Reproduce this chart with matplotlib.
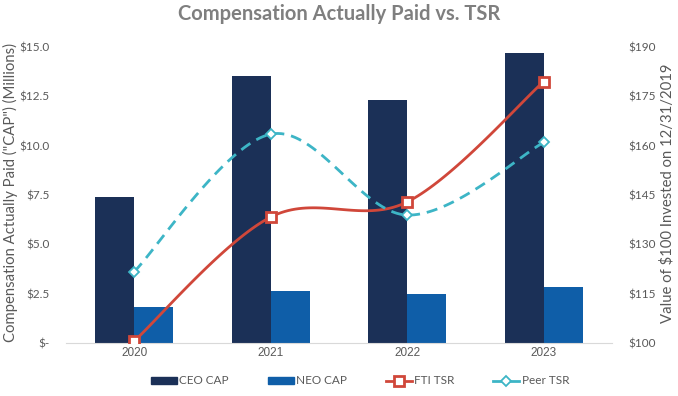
import numpy as np
import matplotlib
matplotlib.use("Agg")
import matplotlib.pyplot as plt
from matplotlib.lines import Line2D
from matplotlib.patches import Patch

years = ["2020", "2021", "2022", "2023"]
ceo_cap = [7.38, 13.55, 12.32, 14.70]
neo_cap = [1.84, 2.64, 2.48, 2.85]
fti_tsr = [100.6, 138.3, 142.9, 179.5]
peer_tsr = [121.7, 163.5, 138.9, 161.0]

plt.rcParams['font.family'] = ['Lato', 'DejaVu Sans']
GRAY = '#595959'
C_CEO = '#1b3057'
C_NEO = '#0f5ea8'
C_FTI = '#d0473a'
C_PEER = '#3db5c6'


def smooth(xs, ys, n=40):
    # Excel-style smoothed line (Bezier through the points)
    xs = np.asarray(xs, float); ys = np.asarray(ys, float)
    P = np.column_stack([xs, ys])
    out = []
    for i in range(len(P) - 1):
        p0 = P[i - 1] if i > 0 else P[i]
        p1 = P[i]; p2 = P[i + 1]
        p3 = P[i + 2] if i + 2 < len(P) else P[i + 1]
        c1 = p1 + (p2 - p0) / 6.0
        c2 = p2 - (p3 - p1) / 6.0
        t = np.linspace(0, 1, n)[:, None]
        seg = ((1 - t) ** 3) * p1 + 3 * ((1 - t) ** 2) * t * c1 + 3 * (1 - t) * t ** 2 * c2 + t ** 3 * p2
        out.append(seg if i == 0 else seg[1:])
    seg = np.vstack(out)
    return seg[:, 0], seg[:, 1]


fig = plt.figure(figsize=(6.78, 3.96), dpi=100)
ax = fig.add_axes([66 / 678, 1 - 343 / 396, 546 / 678, 296 / 396])
x = np.arange(len(years))
w = 0.285
ax.bar(x - w / 2, ceo_cap, width=w, color=C_CEO, zorder=2)
ax.bar(x + w / 2, neo_cap, width=w, color=C_NEO, zorder=2)
ax.set_xlim(-0.5, len(years) - 0.5)
ax.set_ylim(0, 15)
ax.set_yticks(np.arange(0, 15.01, 2.5))
ax.set_yticklabels(['$-' if v == 0 else f'${v:.1f}' for v in np.arange(0, 15.01, 2.5)])
ax.set_xticks(x)
ax.set_xticklabels(years, fontsize=7.5, color=GRAY, family=['Liberation Sans Narrow', 'Liberation Sans'])
for s in ['top', 'right', 'left']:
    ax.spines[s].set_visible(False)
ax.spines['bottom'].set_color('#d9d9d9')
ax.tick_params(axis='both', length=0, labelsize=8.5, colors=GRAY)
ax.tick_params(axis='y', pad=12)
ax.tick_params(axis='x', pad=3)

ax2 = ax.twinx()
ax2.set_ylim(100, 190)
ax2.set_yticks(np.arange(100, 191, 15))
ax2.set_yticklabels([f'${v}' for v in range(100, 191, 15)])
for s in ['top', 'right', 'left', 'bottom']:
    ax2.spines[s].set_visible(False)
ax2.tick_params(axis='y', length=0, labelsize=8.5, colors=GRAY, pad=12)

fig.text(10 / 678, 1 - 193 / 396, 'Compensation Actually Paid ("CAP") (Millions)', rotation=90,
         ha='center', va='center', fontsize=10.7, color=GRAY)
fig.text(667 / 678, 1 - 193 / 396, 'Value of $100 Invested on 12/31/2019', rotation=90,
         ha='center', va='center', fontsize=10.7, color=GRAY)

sx, sy = smooth(x, fti_tsr)
ax2.plot(sx, sy, color=C_FTI, lw=2, zorder=3)
ax2.plot(x, fti_tsr, ls='none', marker='s', ms=7, mfc='white', mec=C_FTI, mew=2, zorder=4)
px, py = smooth(x, peer_tsr)
ax2.plot(px, py, color=C_PEER, lw=2, ls=(0, (4, 2.5)), zorder=3)
ax2.plot(x, peer_tsr, ls='none', marker='D', ms=5, mfc='white', mec=C_PEER, mew=1.3, zorder=4)

fig.text(0.5, 1 - 14 / 396, 'Compensation Actually Paid vs. TSR', ha='center', va='center',
         fontsize=14.5, fontweight='bold', color='#7f7f7f')

handles = [
    Patch(color=C_CEO, label='CEO CAP'),
    Patch(color=C_NEO, label='NEO CAP'),
    Line2D([], [], color=C_FTI, lw=2, marker='s', ms=7, mfc='white', mec=C_FTI, mew=2, label='FTI TSR'),
    Line2D([], [], color=C_PEER, lw=2, marker='D', ms=5, mfc='white', mec=C_PEER, mew=1.3, label='Peer TSR'),
]
leg = fig.legend(handles=handles, loc='center', bbox_to_anchor=(0.531, 1 - 381 / 396), ncol=4,
                 frameon=False, fontsize=8.5, handlelength=2.2, handleheight=0.5, columnspacing=3.3,
                 handletextpad=0.2)
for t in leg.get_texts():
    t.set_color(GRAY)

fig.savefig('out.png', dpi=100)
